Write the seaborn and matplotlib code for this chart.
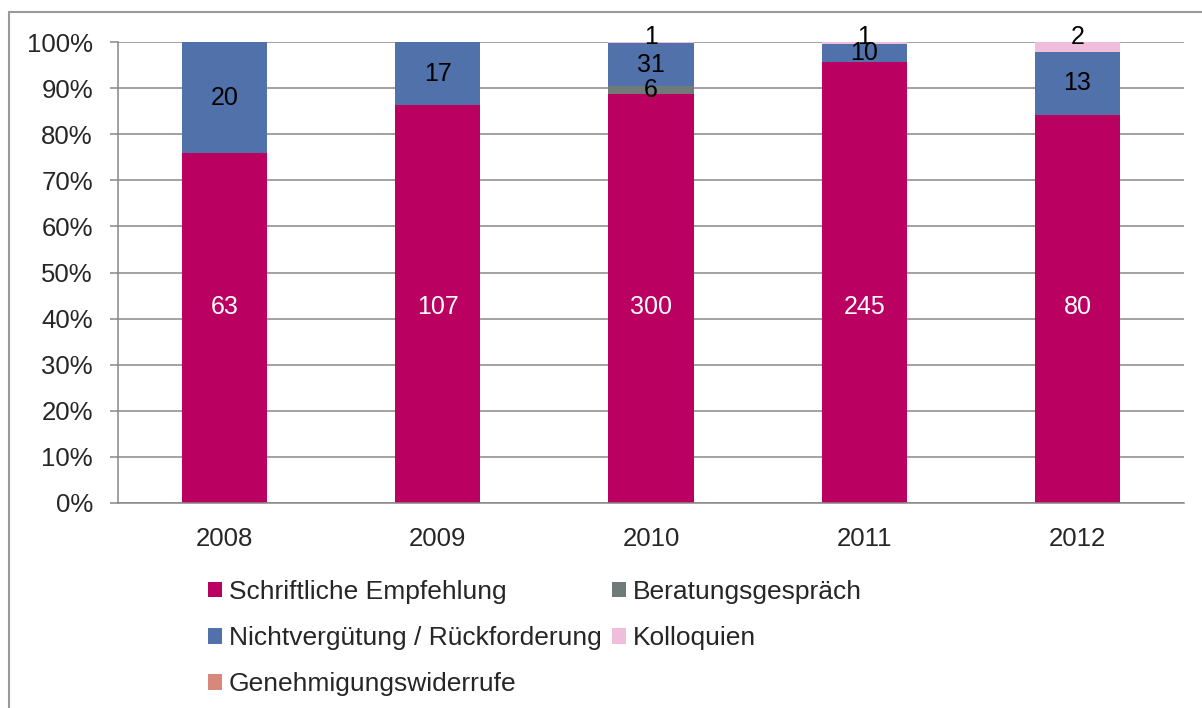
import pandas as pd
import matplotlib.pyplot as plt
import seaborn as sns
from matplotlib.lines import Line2D
from matplotlib.patches import Patch

# ==========================================
# Data
# ==========================================

years = ["2008", "2009", "2010", "2011", "2012"]
series_names = [
    "Schriftliche Empfehlung",
    "Beratungsgespräch",
    "Nichtvergütung / Rückforderung",
    "Kolloquien",
    "Genehmigungswiderrufe",
]
schriftlich = [63, 107, 300, 245, 80]
beratung = [0, 0, 6, 0, 0]
nichtverguetung = [20, 17, 31, 10, 13]
kolloquien = [0, 0, 1, 1, 2]
widerrufe = [0, 0, 0, 0, 0]
colors = ["#BA0060", "#707A78", "#5171AA", "#F0BEDA", "#D8887A"]
label_colors = ["white", "black", "black", "black", "black"]

# ==========================================
# Shares (100% stacked)
# ==========================================

df = pd.DataFrame({
    "year": years,
    series_names[0]: schriftlich,
    series_names[1]: beratung,
    series_names[2]: nichtverguetung,
    series_names[3]: kolloquien,
    series_names[4]: widerrufe,
})
total = df[series_names].sum(axis=1)
share = df[series_names].div(total, axis=0) * 100
cum = share.cumsum(axis=1)

# ==========================================
# Plot
# ==========================================

sns.set_style("white")
plt.rcParams["font.family"] = ["Liberation Sans", "DejaVu Sans"]

fig = plt.figure(figsize=(12.02, 7.08), dpi=100)
ax = fig.add_axes([118 / 1202, 1 - 503 / 708, (1184 - 118) / 1202, (503 - 42) / 708])

# draw cumulative bars from top series down so lower ones cover upper ones
for i in reversed(range(len(series_names))):
    sns.barplot(x=df["year"], y=cum[series_names[i]], color=colors[i],
                width=0.4, ax=ax, saturation=1, linewidth=0, zorder=2)

# value labels
for j in range(len(years)):
    for i, name in enumerate(series_names):
        v = df.loc[j, name]
        if v == 0:
            continue
        top = cum.loc[j, name]
        bottom = top - share.loc[j, name]
        y = (top + bottom) / 2
        if i == 0:
            y = 42.5
        elif i == 3:
            y = 101.1
        ax.text(j, y, str(v), ha="center", va="center", fontsize=18,
                color=label_colors[i], zorder=5)

ax.set_ylim(0, 100)
ax.set_xlim(-0.5, 4.5)
ax.set_yticks(range(0, 101, 10))
ax.set_yticklabels([f"{t}%" for t in range(0, 101, 10)])
ax.set_xlabel("")
ax.set_ylabel("")

grid_c = "#888888"
ax.yaxis.grid(True, color=grid_c, linewidth=1.1, zorder=0)
ax.set_axisbelow(True)
for s in ["top", "right"]:
    ax.spines[s].set_visible(False)
for s in ["left", "bottom"]:
    ax.spines[s].set_color(grid_c)
    ax.spines[s].set_linewidth(1.1)

ax.set_xticks([x - 0.5 for x in range(6)], minor=True)
ax.tick_params(axis="x", which="major", length=0, pad=17, labelsize=18.5)
ax.tick_params(axis="x", which="minor", length=6, width=1.1, color=grid_c, direction="out")
ax.tick_params(axis="y", length=6, width=1.1, color=grid_c, direction="out", pad=12, labelsize=18.5, left=True)

# legend (column-wise order to get row-wise appearance)
order = [0, 2, 4, 1, 3]
handles = [Patch(facecolor=colors[k], edgecolor="none", label=series_names[k]) for k in order]
fig.legend(handles=handles, loc="upper left", bbox_to_anchor=(208 / 1202, 1 - 580 / 708),
           ncol=2, frameon=False, fontsize=19, handlelength=0.53, handleheight=0.53,
           handletextpad=0.25, columnspacing=0.42, labelspacing=0.84, borderpad=0, borderaxespad=0)

# outer frame (only top and left edges visible)
fig.add_artist(Line2D([9 / 1202, 9 / 1202], [0, 1 - 12 / 708], transform=fig.transFigure,
                      color="#999999", linewidth=1.5))
fig.add_artist(Line2D([9 / 1202, 1], [1 - 12 / 708, 1 - 12 / 708], transform=fig.transFigure,
                      color="#999999", linewidth=1.5))

plt.savefig("out.png", dpi=100)
plt.close()
